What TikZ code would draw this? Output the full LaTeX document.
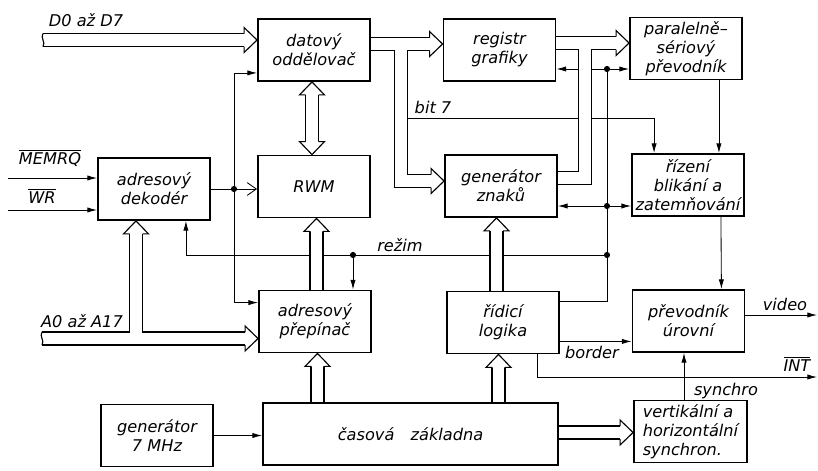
\documentclass[tikz,border=0pt]{standalone}
\usepackage{fontspec}
\setmainfont{DejaVu Sans}
\usetikzlibrary{arrows.meta, calc}

\tikzset{
  box/.style={rectangle, draw=black, line width=1.3pt, minimum width=2.8cm, minimum height=1.55cm, align=center, inner sep=1pt},
  lbl/.style={inner sep=0pt},
  wire/.style={line width=0.6pt},
  arr/.style={-{Latex[length=2.4mm,width=1.3mm]}, line width=0.6pt},
  barb/.style={-{Straight Barb[length=2.3mm,width=3.2mm]}, line width=0.6pt},
  busblack/.style={line width=10pt, black, line join=miter},
  buswhite/.style={line width=8.4pt, white, line join=miter},
  bushead/.pic={
    \fill[white] (0,0) -- (-13,12.5) -- (-13,-12.5) -- cycle;
    \draw[line width=0.8pt, line join=miter] (-13,6.5) -- (-13,12.5) -- (0,0) -- (-13,-12.5) -- (-13,-6.5);
  }
}
% hollow bus: black outline first, white inside after
\newcommand{\sbernice}[1]{\draw[busblack] #1; \draw[buswhite] #1;}

\begin{document}
\begin{tikzpicture}[x=0.025cm, y=-0.025cm, font=\fontsize{11.5}{13.5}\selectfont\itshape]
  \useasboundingbox (0,0) rectangle (818,470);

  % bloky
  \node[box] (datovy) at (314,50) {datový\\oddělovač};
  \node[box] (registr) at (499.5,50) {registr\\grafiky};
  \node[box] (paral) at (686,48.5) {paralelně–\\sériový\\převodník};
  \node[box] (dekoder) at (154,189) {adresový\\dekodér};
  \node[box] (rwm) at (314,186.5) {RWM};
  \node[box] (znaku) at (501,186) {generátor\\znaků};
  \node[box] (rizeni) at (688,185) {řízení\\blikání a\\zatemňování};
  \node[box] (prepinac) at (315,321.5) {adresový\\přepínač};
  \node[box] (logika) at (503,322.5) {řídicí\\logika};
  \node[box] (urovni) at (688.5,321) {převodník\\úrovní};
  \node[box] (gen) at (157,435.5) {generátor\\7 MHz};
  \node[box, minimum width=7.375cm] (casova) at (410.5,434) {časová\quad základna};
  \node[box, align=left, minimum width=2.825cm] (synchron) at (690.5,431.5) {vertikální a\\horizontální\\synchron.};

  % vstupy
  \coordinate (memin) at (8,178);
  \coordinate (wrin) at (8,210);
  \draw[arr] (memin) -- (memin -| dekoder.west);
  \draw[arr] (wrin) -- (wrin -| dekoder.west);
  \node[lbl] (memlbl) at (50,158) {$\overline{\mbox{MEMRQ}}$};
  \node[lbl] (wrlbl) at (42,196) {$\overline{\mbox{WR}}$};

  % dekoder
  \coordinate (jdek) at (234,189);
  \draw[wire] (dekoder.east) -- (jdek);
  \draw[barb] (jdek) -- (jdek -| rwm.west);
  \draw[arr] (jdek) |- ($(datovy.south west)+(0,-9)$);
  \draw[arr] (jdek) |- ($(prepinac.north west)+(0,13)$);

  % ridici logika
  \coordinate (j1) at (607,69);
  \coordinate (j2) at (607,206);
  \coordinate (j3) at (607,255);
  \coordinate (j4) at (353,255);
  \draw[wire] ($(logika.north east)+(0,11)$) -| (j1);
  \draw[arr] (j1) -- (j1 -| registr.east);
  \draw[arr] (j1) -- (j1 -| paral.west);
  \draw[arr] (j2) -- (j2 -| znaku.east);
  \draw[arr] (j2) -- (j2 -| rizeni.west);
  \draw[arr] (j3) -| ($(dekoder.south east)+(-25,0)$);
  \draw[arr] (j4) -- (j4 |- prepinac.north);
  \node[lbl] (rezim) at (400,245) {režim};

  % bit 7
  \coordinate (bit7) at (408,118);
  \draw[arr] (bit7) -| ($(rizeni.north west)+(23,0)$);
  \node[lbl] (bitlbl) at (433,107) {bit 7};

  \draw[arr] ($(paral.south east)+(-24,0)$) -- ($(rizeni.north east)+(-26,0)$);
  \draw[arr] ($(rizeni.south east)+(-24,0)$) -- ($(urovni.north east)+(-24,0)$);

  % vystupy
  \coordinate (video) at (817,315);
  \draw[arr] (video -| urovni.east) -- (video);
  \node[lbl] (videolbl) at (785,304) {video};
  \draw[arr] ($(logika.south east)+(0,-13)$) coordinate (bd) -- (bd -| urovni.west);
  \node[lbl] (borderlbl) at (592,352) {border};
  \coordinate (intout) at (817,377);
  \draw[arr] ($(logika.south east)+(-23,0)$) |- (intout);
  \node[lbl] (intlbl) at (797,364) {$\overline{\mbox{INT}}$};
  \coordinate (syn) at (684,0);
  \draw[arr] (syn |- synchron.north) -- (syn |- urovni.south);
  \node[lbl] (synlbl) at (726,391) {synchro};
  \draw[arr] (gen.east) -- (gen.east -| casova.west);

  % sbernice
  \coordinate (dIn) at (43,40);
  \sbernice{(dIn) -- ($(dIn -| datovy.west)+(-13,0)$)}
  \pic at (dIn -| datovy.west) {bushead};
  \draw[line width=0.8pt] (43,33.5) .. controls (40,38) and (46,42) .. (43,46.5);
  \node[lbl] (dlbl) at (86,20) {D0 až D7};

  \coordinate (dOut) at (0,44);
  \coordinate (dDown) at (401,181);
  \sbernice{(dOut -| datovy.east) -- ($(dOut -| registr.west)+(-13,0)$) (dDown |- dOut) -- (dDown) -- ($(dDown -| znaku.west)+(-13,0)$)}
  \pic at (dOut -| registr.west) {bushead};
  \pic at (dDown -| znaku.west) {bushead};

  \coordinate (pOut) at (0,43);
  \coordinate (pDown) at (585,178);
  \sbernice{(pOut -| registr.east) -- ($(pOut -| paral.west)+(-13,0)$) (pDown |- pOut) -- (pDown) -- (pDown -| znaku.east)}
  \pic at (pOut -| paral.west) {bushead};

  \coordinate (dr) at (312,0);
  \sbernice{($(dr |- datovy.south)+(0,13)$) -- ($(dr |- rwm.north)+(0,-13)$)}
  \pic[rotate=90] at (dr |- datovy.south) {bushead};
  \pic[rotate=-90] at (dr |- rwm.north) {bushead};

  \coordinate (aIn) at (42,338.5);
  \coordinate (aUp) at (136,0);
  \sbernice{(aIn) -- ($(aIn -| prepinac.west)+(-13,0)$) (aUp |- aIn) -- ($(aUp |- dekoder.south)+(0,13)$)}
  \pic at (aIn -| prepinac.west) {bushead};
  \pic[rotate=90] at (aUp |- dekoder.south) {bushead};
  \draw[line width=0.8pt] (42,332) .. controls (39,336.5) and (45,340.5) .. (42,345);
  \node[lbl] (albl) at (82,321) {A0 až A17};

  \coordinate (pr) at (316.5,0);
  \sbernice{(pr |- prepinac.north) -- ($(pr |- rwm.south)+(0,13)$)}
  \pic[rotate=90] at (pr |- rwm.south) {bushead};

  \coordinate (cp) at (317.5,0);
  \sbernice{(cp |- casova.north) -- ($(cp |- prepinac.south)+(0,13)$)}
  \pic[rotate=90] at (cp |- prepinac.south) {bushead};

  \coordinate (lz) at (496.5,0);
  \sbernice{(lz |- logika.north) -- ($(lz |- znaku.south)+(0,13)$)}
  \pic[rotate=90] at (lz |- znaku.south) {bushead};

  \coordinate (cl) at (498.5,0);
  \sbernice{(cl |- casova.north) -- ($(cl |- logika.south)+(0,13)$)}
  \pic[rotate=90] at (cl |- logika.south) {bushead};

  \coordinate (cs) at (0,432.5);
  \sbernice{(cs -| casova.east) -- ($(cs -| synchron.west)+(-13,0)$)}
  \pic at (cs -| synchron.west) {bushead};

  % uzly
  \foreach \j in {jdek, j1, j2, j3, j4}
    \fill (\j) circle[radius=2.2pt];
\end{tikzpicture}
\end{document}
